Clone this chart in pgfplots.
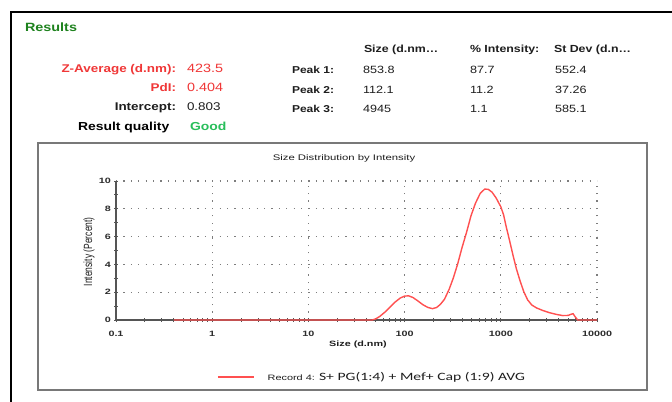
\documentclass[border=0pt]{standalone}
\usepackage{fontspec}
\usepackage{graphicx}
\usepackage{pgfplots}
\pgfplotsset{compat=1.18}
\setmainfont{Liberation Sans}
\newfontfamily\ar{Liberation Sans}[FakeStretch=1.2]
\newfontfamily\arc{Liberation Sans}[FakeStretch=1.4]
\newfontfamily\calfont{Carlito}[FakeStretch=1.4]
\newcommand\fs[1]{\fontsize{#1bp}{#1bp}\selectfont}
\definecolor{labred}{RGB}{240,55,55}
\definecolor{resgreen}{RGB}{30,130,30}
\definecolor{goodgreen}{RGB}{40,190,90}
\definecolor{txt}{RGB}{30,30,30}
\definecolor{curve}{RGB}{255,80,80}
\definecolor{axisgray}{RGB}{85,85,85}
\definecolor{gridgray}{RGB}{125,125,125}
\definecolor{framegray}{RGB}{120,120,120}
\definecolor{tickgray}{RGB}{45,45,45}

\pgfplotstableread{
x y
0.4 0
46 0
50 0.08
55 0.25
62 0.55
70 0.9
80 1.3
90 1.58
100 1.72
110 1.74
122 1.62
137 1.38
155 1.1
175 0.9
195 0.82
215 0.9
235 1.12
260 1.5
290 2.2
320 3.0
355 4.0
395 5.2
440 6.3
490 7.5
545 8.4
610 9.1
680 9.42
740 9.4
810 9.2
890 8.8
1000 8.15
1070 7.55
1130 6.8
1230 5.75
1340 4.65
1450 3.7
1580 2.85
1730 2.05
1900 1.45
2100 1.08
2350 0.87
2700 0.7
3200 0.53
3800 0.4
4400 0.32
5000 0.33
5400 0.42
5650 0.45
5900 0.25
6300 0
10000 0
}\dist

\begin{document}
\begin{tikzpicture}
\begin{scope}[x=1bp,y=-1bp]
\useasboundingbox (0,0) rectangle (672,401);
\fill[white] (0,0) rectangle (672,401);
\draw[line width=2.2bp, black] (675,12) -- (11,12) -- (11,405);
\draw[line width=1.3bp, framegray] (38,143) rectangle (647,390);
\tikzset{t/.style={inner sep=0pt, outer sep=0pt}}
% Results header
\node[t,anchor=base west,text=resgreen,font=\ar\bfseries\fs{12}] at (25,31) {Results};
% left block
\node[t,anchor=base east,text=labred,font=\ar\bfseries\fs{11.2}] at (176,72) {Z-Average (d.nm):};
\node[t,anchor=base west,text=labred,font=\ar\fs{12}] at (187,72) {423.5};
\node[t,anchor=base east,text=labred,font=\ar\bfseries\fs{11.2}] at (176,91) {PdI:};
\node[t,anchor=base west,text=labred,font=\ar\fs{12}] at (187,91) {0.404};
\node[t,anchor=base east,text=txt,font=\ar\bfseries\fs{11.2}] at (176,110) {Intercept:};
\node[t,anchor=base west,text=txt,font=\ar\fs{11.2}] at (187,110) {0.803};
\node[t,anchor=base west,text=black,font=\ar\bfseries\fs{11.6}] at (78,130) {Result quality};
\node[t,anchor=base west,text=goodgreen,font=\ar\bfseries\fs{11.6}] at (190,130) {Good};
% middle table
\node[t,anchor=base west,text=txt,font=\ar\bfseries\fs{10.3}] at (364,52) {Size (d.nm…};
\node[t,anchor=base west,text=txt,font=\ar\bfseries\fs{10.3}] at (470,52) {\% Intensity:};
\node[t,anchor=base west,text=txt,font=\ar\bfseries\fs{10.3}] at (554,52) {St Dev (d.n…};
\node[t,anchor=base west,text=txt,font=\ar\bfseries\fs{10}] at (292,73) {Peak 1:};
\node[t,anchor=base west,text=txt,font=\ar\bfseries\fs{10}] at (292,93) {Peak 2:};
\node[t,anchor=base west,text=txt,font=\ar\bfseries\fs{10}] at (292,112) {Peak 3:};
\node[t,anchor=base west,text=txt,font=\ar\fs{10.5}] at (363,73) {853.8};
\node[t,anchor=base west,text=txt,font=\ar\fs{10.5}] at (363,93) {112.1};
\node[t,anchor=base west,text=txt,font=\ar\fs{10.5}] at (363,112) {4945};
\node[t,anchor=base west,text=txt,font=\ar\fs{10.5}] at (470,73) {87.7};
\node[t,anchor=base west,text=txt,font=\ar\fs{10.5}] at (470,93) {11.2};
\node[t,anchor=base west,text=txt,font=\ar\fs{10.5}] at (470,112) {1.1};
\node[t,anchor=base west,text=txt,font=\ar\fs{10.5}] at (555,73) {552.4};
\node[t,anchor=base west,text=txt,font=\ar\fs{10.5}] at (555,93) {37.26};
\node[t,anchor=base west,text=txt,font=\ar\fs{10.5}] at (555,112) {585.1};
\end{scope}

\begin{axis}[
  at={(116bp,-320bp)}, anchor=south west,
  scale only axis, width=481bp, height=139bp,
  xmode=log, xmin=0.1, xmax=10000, ymin=0, ymax=10,
  axis lines=left,
  axis line style={-, draw=axisgray, line width=1.8bp},
  every outer x axis line/.append style={-},
  every outer y axis line/.append style={-},
  xtick={0.1,1,10,100,1000,10000},
  xticklabels={0.1,1,10,100,1000,10000},
  minor xtick={0.2,0.3,0.4,0.5,0.6,0.7,0.8,0.9,2,3,4,5,6,7,8,9,20,30,40,50,60,70,80,90,200,300,400,500,600,700,800,900,2000,3000,4000,5000,6000,7000,8000,9000},
  ytick={0,2,4,6,8,10},
  yticklabels={0,2,4,6,8,10},
  minor ytick={1,3,5,7,9},
  tick align=center,
  major tick length=4bp, minor tick length=3.5bp,
  tick style={draw=axisgray, line width=1bp},
  grid=major,
  major grid style={draw=gridgray, line width=1.3bp, dash pattern=on 1.2bp off 6.2bp},
  xticklabel style={font=\arc\bfseries\fs{7.7}, text=tickgray, inner sep=0pt, anchor=north, yshift=-8.5bp},
  yticklabel style={font=\arc\bfseries\fs{7.7}, text=tickgray, inner sep=0pt, anchor=east, xshift=-3bp},
  title={Size Distribution by Intensity},
  title style={at={(axis description cs:0.474,1.123)}, anchor=center, font=\arc\fs{8.1}, text=txt, inner sep=0pt},
  xlabel={Size (d.nm)},
  xlabel style={at={(axis description cs:0.503,-0.173)}, anchor=center, font=\arc\bfseries\fs{7.7}, text=txt, inner sep=0pt},
  ylabel={\scalebox{1}[1.4]{Intensity (Percent)}},
  ylabel style={at={(axis description cs:-0.056,0.491)}, anchor=center, font=\fs{8.5}, text=txt, inner sep=0pt},
  legend style={at={(axis description cs:0.21,-0.41)}, anchor=west, draw=none, fill=none, inner sep=0pt, column sep=0pt,
    nodes={inner sep=0pt, text=txt}},
  legend image code/.code={\draw[#1] (0bp,0bp) -- (36bp,0bp);},
  legend cell align=left,
  clip=false,
]
\addplot[color=curve, line width=1.4bp] table[x=x,y=y] {\dist};
\addlegendentry{\hspace{13bp}{\arc\fs{7.8}Record 4: }{\calfont\fs{11.2}S+ PG(1:4) + Mef+ Cap (1:9) AVG}}
\end{axis}
\end{tikzpicture}
\end{document}
